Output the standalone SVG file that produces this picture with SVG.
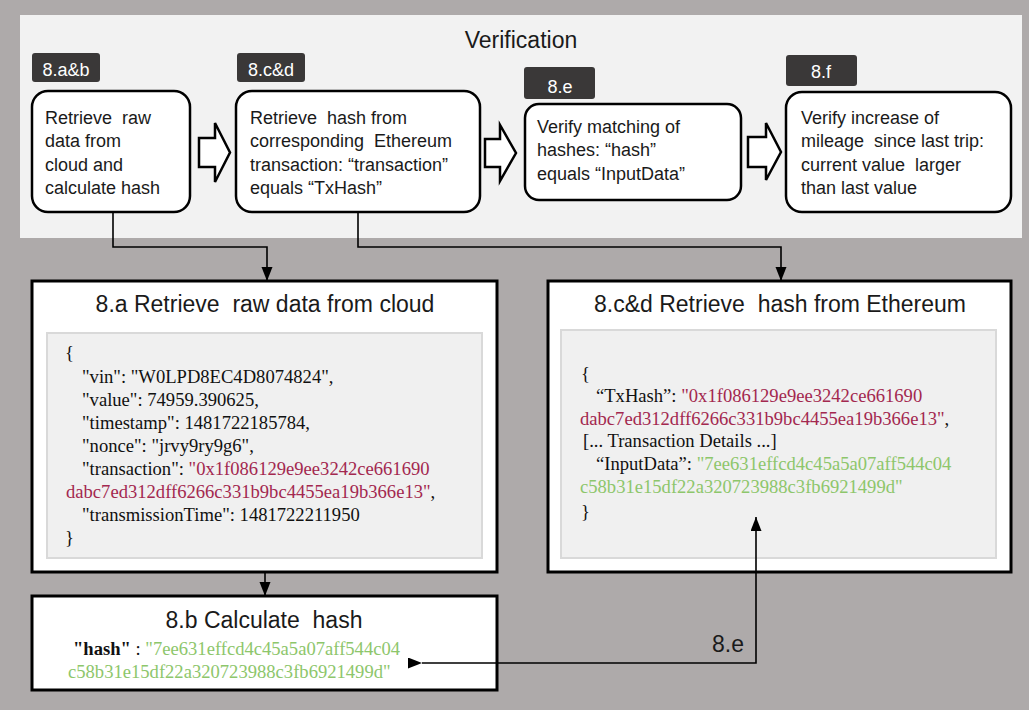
<svg xmlns="http://www.w3.org/2000/svg" width="1029" height="710" viewBox="0 0 1029 710">
<style>
.bg{fill:#aeaaaa}
.panel{fill:#f2f2f2}
.tag{fill:#3a3838}
.tagt{font-family:"Liberation Sans",Arial,sans-serif;font-size:18px;fill:#ffffff;text-anchor:middle}
.step{fill:#ffffff;stroke:#000000;stroke-width:2.5}
.st{font-family:"Liberation Sans",Arial,sans-serif;font-size:18px;fill:#1a1a1a;white-space:pre}
.blk{fill:#ffffff;stroke:#000000;stroke-width:3}
.title{font-family:"Liberation Sans",Arial,sans-serif;font-size:23px;fill:#1a1a1a;text-anchor:middle;white-space:pre}
.code{fill:#f0f0f0;stroke:#d9d9d9;stroke-width:2}
.js{font-family:"Liberation Serif","Times New Roman",serif;font-size:18.6px;fill:#111111;white-space:pre}
.red{fill:#a3284f}
.grn{fill:#8dc66b}
.conn{fill:none;stroke:#000000;stroke-width:1.6}
.barrow{fill:#ffffff;stroke:#000000;stroke-width:2.5;stroke-linejoin:miter}
.lbl{font-family:"Liberation Sans",Arial,sans-serif;font-size:23px;fill:#1a1a1a}
</style>
<defs>
<marker id="ah" markerUnits="userSpaceOnUse" markerWidth="15" markerHeight="12" refX="14" refY="5.5" orient="auto">
<path d="M0,0 L14,5.5 L0,11 Z" fill="#000000"/>
</marker>
</defs>
<rect class="bg" x="0" y="0" width="1029" height="710"/>
<rect class="panel" x="20" y="15" width="1002" height="223"/>
<text class="title" x="521" y="48">Verification</text>

<g id="step-ab">
<rect class="tag" x="32" y="53" width="68" height="29" rx="3"/>
<text class="tagt" x="66" y="76">8.a&amp;b</text>
<rect class="step" x="32" y="91" width="158" height="121" rx="16"/>
<text class="st" x="45" y="124">Retrieve  raw</text>
<text class="st" x="45" y="147">data from</text>
<text class="st" x="45" y="171">cloud and</text>
<text class="st" x="45" y="194">calculate hash</text>
</g>
<g id="step-cd">
<rect class="tag" x="237" y="53" width="68" height="29" rx="3"/>
<text class="tagt" x="271" y="76">8.c&amp;d</text>
<rect class="step" x="236" y="91" width="244" height="121" rx="16"/>
<text class="st" x="250" y="124">Retrieve  hash from</text>
<text class="st" x="250" y="147">corresponding  Ethereum</text>
<text class="st" x="250" y="171">transaction: “transaction”</text>
<text class="st" x="250" y="194">equals “TxHash”</text>
</g>
<g id="step-e">
<rect class="tag" x="524" y="67" width="71" height="32" rx="3"/>
<text class="tagt" x="560" y="93">8.e</text>
<rect class="step" x="525" y="104" width="216" height="96" rx="14"/>
<text class="st" x="537" y="133">Verify matching of</text>
<text class="st" x="537" y="156">hashes: “hash”</text>
<text class="st" x="537" y="180">equals “InputData”</text>
</g>
<g id="step-f">
<rect class="tag" x="786" y="55" width="71" height="31" rx="3"/>
<text class="tagt" x="821" y="78">8.f</text>
<rect class="step" x="786" y="92" width="225" height="120" rx="16"/>
<text class="st" x="801" y="124">Verify increase of</text>
<text class="st" x="801" y="147">mileage  since last trip:</text>
<text class="st" x="801" y="171">current value  larger</text>
<text class="st" x="801" y="194">than last value</text>
</g>
<g id="flow-arrows">
<path class="barrow" d="M199,138 H215 V123 L230,152.5 L215,182 V167 H199 Z"/>
<path class="barrow" d="M485,139 H500 V125 L516,153 L500,181 V167 H485 Z"/>
<path class="barrow" d="M748,137 H766 V123 L781,152 L766,180 V167 H748 Z"/>
</g>

<g id="box-8a">
<rect class="blk" x="32" y="281" width="465" height="291"/>
<text class="title" x="265" y="312">8.a Retrieve  raw data from cloud</text>
<rect class="code" x="47" y="333" width="435" height="225"/>
<text class="js" x="65" y="359">{</text>
<text class="js" x="82" y="383">"vin": "W0LPD8EC4D8074824",</text>
<text class="js" x="82" y="406">"value": 74959.390625,</text>
<text class="js" x="82" y="429">"timestamp": 1481722185784,</text>
<text class="js" x="82" y="452">"nonce": "jrvy9ry9g6",</text>
<text class="js" x="82" y="475">"transaction": <tspan class="red">"0x1f086129e9ee3242ce661690</tspan></text>
<text class="js" x="66" y="498"><tspan class="red">dabc7ed312dff6266c331b9bc4455ea19b366e13"</tspan>,</text>
<text class="js" x="82" y="521">"transmissionTime": 1481722211950</text>
<text class="js" x="65" y="544">}</text>
</g>
<g id="box-8cd">
<rect class="blk" x="548" y="281" width="463" height="291"/>
<text class="title" x="780" y="312">8.c&amp;d Retrieve  hash from Ethereum</text>
<rect class="code" x="561" y="330" width="435" height="228"/>
<text class="js" x="581" y="380">{</text>
<text class="js" x="596" y="402">“TxHash”: <tspan class="red">"0x1f086129e9ee3242ce661690</tspan></text>
<text class="js" x="580" y="425"><tspan class="red">dabc7ed312dff6266c331b9bc4455ea19b366e13"</tspan>,</text>
<text class="js" x="583" y="447">[... Transaction Details ...]</text>
<text class="js" x="596" y="470">“InputData”: <tspan class="grn">"7ee631effcd4c45a5a07aff544c04</tspan></text>
<text class="js" x="580" y="493"><tspan class="grn">c58b31e15df22a320723988c3fb6921499d"</tspan></text>
<text class="js" x="581" y="518">}</text>
</g>
<g id="box-8b">
<rect class="blk" x="32" y="596" width="465" height="94"/>
<text class="title" x="264" y="628">8.b Calculate  hash</text>
<text class="js" x="73" y="655"><tspan font-weight="bold">"hash"</tspan> : <tspan class="grn">"7ee631effcd4c45a5a07aff544c04</tspan></text>
<text class="js" x="68" y="678"><tspan class="grn">c58b31e15df22a320723988c3fb6921499d"</tspan></text>
</g>

<g id="connectors">
<path class="conn" d="M113,212 V247 H267 V281" marker-end="url(#ah)"/>
<path class="conn" d="M358,212 V247 H781 V281" marker-end="url(#ah)"/>
<path class="conn" d="M265,572 V596" marker-end="url(#ah)"/>
<path class="conn" d="M422,663 H756 V517" marker-start="url(#ah)" marker-end="url(#ah)"/>
<text class="lbl" x="712" y="652">8.e</text>
</g>
</svg>
